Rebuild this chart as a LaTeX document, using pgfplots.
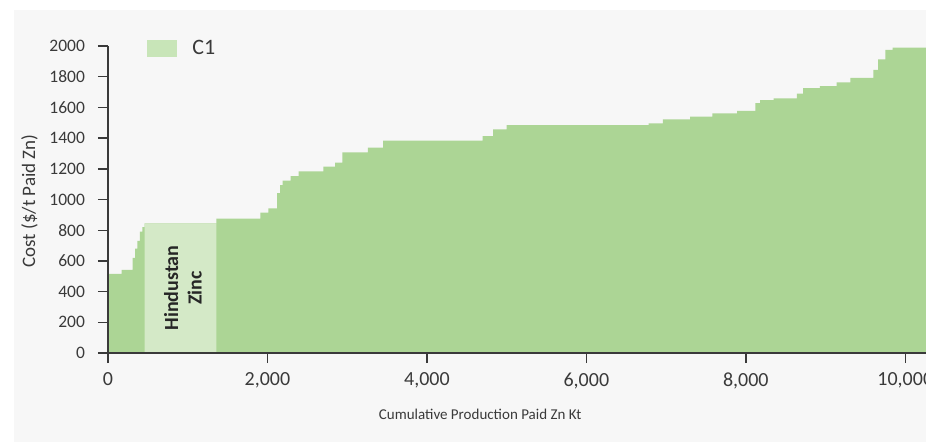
\documentclass[border=0pt]{standalone}
\usepackage{fontspec}
\setmainfont{Carlito}
\usepackage{pgfplots}
\pgfplotsset{compat=1.18}
\definecolor{zinc}{HTML}{ACD595}
\definecolor{hzinc}{HTML}{D4E9C7}
\definecolor{legc}{HTML}{C8E5B8}
\definecolor{bg}{HTML}{F7F7F7}
\definecolor{ax}{HTML}{3A3A3A}

\begin{document}
\begin{tikzpicture}
\path[use as bounding box] (-108pt,-89pt) rectangle (818pt,353pt);
\fill[bg] (-94pt,-89pt) rectangle (818pt,343pt);
\begin{axis}[
  at={(0pt,0pt)}, anchor=origin,
  scale only axis, width=818pt, height=307pt,
  xmin=0, xmax=10260, ymin=0, ymax=2000,
  axis x line=bottom, axis y line=left,
  axis line style={-, ax, line width=1.6pt},
  tick style={ax, line width=1.4pt},
  tick align=outside, major tick length=10pt,
  axis on top,
  scaled ticks=false,
  xtick={0,2000,...,10000}, ytick={0,200,...,2000},
  /pgf/number format/assume math mode=true,
  x tick label style={font=\fontsize{20}{24}\selectfont, text=ax, yshift=-6pt,
    /pgf/number format/.cd, fixed, 1000 sep={,}, /tikz/.cd},
  y tick label style={font=\fontsize{17.5}{20}\selectfont, text=ax, xshift=-9.5pt,
    /pgf/number format/.cd, fixed, 1000 sep={}, /tikz/.cd},
  xlabel={Cumulative Production Paid Zn Kt},
  xlabel style={at={(axis description cs:0.455,-0.199)}, anchor=center,
    font=\fontsize{15}{18}\selectfont, text=ax},
  ylabel={Cost (\$/t Paid Zn)},
  ylabel style={at={(axis description cs:-0.096,0.495)}, anchor=center,
    font=\fontsize{19}{22}\selectfont, text=ax},
  legend style={at={(axis description cs:0.048,1.026)}, anchor=north west,
    draw=none, fill=none, font=\fontsize{22}{24}\selectfont, text=ax,
    inner sep=0pt},
  legend cell align=left,
]
\addlegendimage{legend image code/.code={\fill[legc,draw=none] (0pt,-8.5pt) rectangle (30pt,8.5pt);
  \path[draw=none,fill=none] (0pt,0pt) rectangle (43pt,1pt);}}
\addlegendentry{C1}
\addplot[const plot, fill=zinc, draw=none, forget plot] coordinates {
(0,515) (170,541) (310,620) (340,680) (370,730) (400,790) (430,820)
(460,845) (1360,875) (1910,914) (2010,943) (2120,1042) (2160,1094)
(2190,1123) (2290,1153) (2390,1183) (2700,1214) (2850,1240) (2940,1307)
(3260,1338) (3450,1383) (4700,1413) (4830,1457) (5000,1485) (6780,1496)
(6960,1522) (7300,1540) (7580,1561) (7890,1577) (8120,1628) (8180,1648)
(8350,1659) (8640,1690) (8720,1725) (8930,1739) (9140,1763) (9310,1793)
(9600,1844) (9660,1913) (9750,1974) (9840,1990) (10260,1990)
} \closedcycle;
\addplot[const plot, fill=hzinc, draw=none, forget plot] coordinates {
(460,845) (1360,845)
} \closedcycle;
\node[rotate=90, align=center, text=black!85,
  font=\bfseries\fontsize{20}{23.5}\selectfont] at (axis cs:941,423) {Hindustan\\Zinc};
\end{axis}
\end{tikzpicture}
\end{document}
